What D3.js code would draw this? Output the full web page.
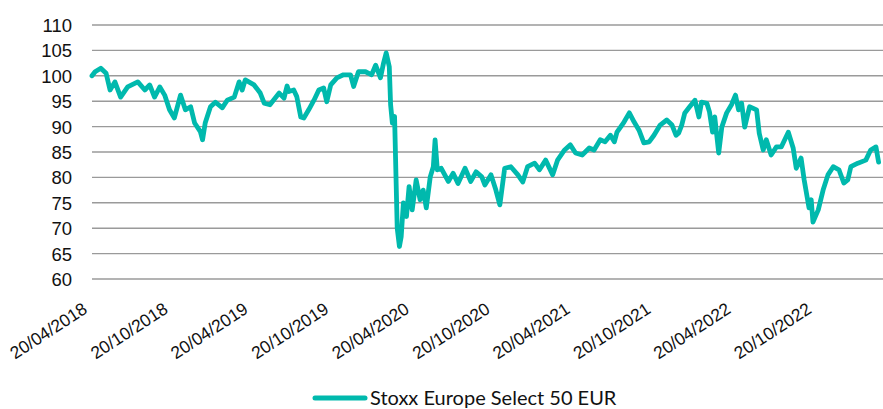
<!DOCTYPE html>
<html>
<head>
<meta charset="utf-8">
<script src="https://cdn.jsdelivr.net/npm/d3@7"></script>
<style>
  html, body { margin: 0; padding: 0; background: #fff; }
  svg { display: block; font-family: Lato, "Open Sans", sans-serif; }
  .tickLab { font-size: 18.5px; fill: #111; }
  .xLab { font-size: 17.5px; }
  .legendLab { font-size: 20px; fill: #111; }
</style>
</head>
<body>
<svg id="chart" width="883" height="409"></svg>
<script>
// Stoxx Europe Select 50 EUR, rebased at 100 on 20/04/2018
const startDate = "2018-04-20";
const endDate = "2023-03-21";
const seriesName = "Stoxx Europe Select 50 EUR";

// days since the start date
const dayOffsets = [
  0, 7, 20, 32, 41, 52, 65, 81, 104, 120, 131, 142, 154, 165, 176, 187, 201, 212, 224, 233,
  246, 251, 257, 269, 280, 296, 307, 323, 334, 341, 348, 368, 382, 391, 404, 425, 436, 443, 447, 458,
  465, 474, 481, 492, 504, 515, 526, 533, 542, 556, 571, 587, 594, 605, 621, 635, 644, 655, 662, 668,
  675, 678, 682, 687, 693, 698, 702, 707, 714, 720, 727, 736, 745, 752, 759, 768, 775, 779, 784, 793,
  809, 820, 831, 847, 860, 872, 885, 892, 906, 917, 926, 937, 951, 967, 978, 989, 1005, 1016, 1030, 1046,
  1057, 1073, 1086, 1098, 1113, 1129, 1140, 1154, 1165, 1177, 1186, 1192, 1208, 1220, 1231, 1242, 1253, 1265, 1276, 1290,
  1305, 1317, 1326, 1332, 1339, 1346, 1357, 1369, 1378, 1384, 1396, 1402, 1409, 1414, 1423, 1430, 1441, 1452, 1461, 1468,
  1475, 1482, 1493, 1509, 1515, 1524, 1531, 1542, 1554, 1565, 1581, 1592, 1599, 1610, 1617, 1628, 1633, 1637, 1649, 1660,
  1671, 1683, 1696, 1707, 1716, 1723, 1739, 1757, 1768, 1780, 1786
];

const indexValues = [
  100.0, 100.8, 101.5, 100.5, 97.2, 98.8, 95.8, 97.8, 98.8, 97.2, 98.2, 95.8, 97.8, 96.2, 93.3, 91.7, 96.2, 93.3, 93.9, 90.7,
  89.0, 87.4, 90.7, 93.9, 94.8, 93.7, 95.2, 95.8, 98.8, 97.2, 99.2, 98.2, 96.6, 94.6, 94.3, 96.6, 95.6, 98.0, 96.9, 97.2,
  95.9, 91.9, 91.7, 93.3, 95.2, 97.2, 97.6, 94.9, 98.2, 99.6, 100.2, 100.2, 97.9, 100.8, 100.8, 100.2, 102.1, 99.6, 102.5, 104.5,
  101.8, 94.3, 90.7, 92.0, 70.0, 66.4, 68.3, 75.0, 72.3, 78.2, 73.6, 79.5, 75.6, 77.5, 74.0, 80.1, 82.1, 87.4, 81.5, 81.8,
  79.2, 80.8, 78.8, 81.8, 79.2, 81.1, 80.1, 78.5, 80.5, 77.5, 74.6, 81.8, 82.1, 80.5, 79.1, 82.1, 82.8, 81.5, 83.4, 80.5,
  83.4, 85.4, 86.4, 84.8, 84.4, 85.8, 85.4, 87.4, 87.0, 88.3, 87.0, 88.9, 90.9, 92.7, 90.9, 89.3, 86.8, 87.0, 88.3, 90.3,
  91.3, 90.3, 88.3, 88.7, 90.3, 92.7, 93.9, 95.2, 91.9, 94.8, 94.6, 92.9, 88.9, 91.9, 84.8, 89.9, 92.7, 94.3, 96.2, 93.3,
  94.6, 89.9, 93.9, 93.3, 88.7, 85.4, 87.4, 84.4, 86.0, 86.0, 88.9, 85.8, 81.8, 83.8, 79.5, 74.0, 75.6, 71.2, 73.6, 77.5,
  80.5, 82.1, 81.5, 78.9, 79.5, 82.1, 82.8, 83.4, 85.4, 86.0, 83.0
];

const yTicks = [60, 65, 70, 75, 80, 85, 90, 95, 100, 105, 110];
const xTickLabels = [
  "20/04/2018", "20/10/2018", "20/04/2019", "20/10/2019", "20/04/2020",
  "20/10/2020", "20/04/2021", "20/10/2021", "20/04/2022", "20/10/2022"
];

const parseIso = d3.timeParse("%Y-%m-%d");
const parseFr = d3.timeParse("%d/%m/%Y");
const fmtFr = d3.timeFormat("%d/%m/%Y");

const t0 = parseIso(startDate);
const points = dayOffsets.map((d, i) => ({ date: d3.timeDay.offset(t0, d), value: indexValues[i] }));
const xTicks = xTickLabels.map(parseFr);

const svg = d3.select("#chart");
const margin = { top: 25, right: 0, bottom: 130, left: 92 };
const W = 883, H = 409;
const innerW = W - margin.left - margin.right;
const innerH = H - margin.top - margin.bottom; // 254

const x = d3.scaleTime().domain([t0, parseIso(endDate)]).range([0, innerW]);
const y = d3.scaleLinear().domain([60, 110]).range([innerH, 0]);

const g = svg.append("g").attr("transform", `translate(${margin.left},${margin.top})`);

// horizontal grid
g.append("g")
  .selectAll("line")
  .data(yTicks)
  .join("line")
  .attr("x1", 0)
  .attr("x2", innerW)
  .attr("y1", (d) => y(d))
  .attr("y2", (d) => y(d))
  .attr("stroke", "#9a9a9a")
  .attr("stroke-width", 1.4);

// y labels
const yAxis = g.append("g")
  .attr("transform", "translate(-20,0)")
  .call(d3.axisLeft(y).tickValues(yTicks).tickSize(0).tickPadding(0));
yAxis.select(".domain").remove();
yAxis.selectAll("text")
  .attr("class", "tickLab")
  .attr("font-family", null)
  .attr("dy", "0.35em");

// x labels, rotated
const xAxis = g.append("g")
  .attr("transform", `translate(0,${innerH})`)
  .call(d3.axisBottom(x).tickValues(xTicks).tickFormat(fmtFr).tickSize(0).tickPadding(0));
xAxis.select(".domain").remove();
xAxis.selectAll("text")
  .attr("class", "tickLab xLab")
  .attr("font-family", null)
  .attr("text-anchor", "end")
  .attr("dy", null)
  .attr("y", 0)
  .attr("transform", "translate(-4,33) rotate(-33)");

// series
const line = d3.line()
  .x((d) => x(d.date))
  .y((d) => y(d.value));

g.append("path")
  .datum(points)
  .attr("fill", "none")
  .attr("stroke", "#00b9ad")
  .attr("stroke-width", 4.8)
  .attr("stroke-linejoin", "round")
  .attr("stroke-linecap", "round")
  .attr("d", line);

// legend
const lg = svg.append("g").attr("transform", "translate(313,398)");
lg.append("line")
  .attr("x1", 2).attr("x2", 52)
  .attr("y1", 0).attr("y2", 0)
  .attr("stroke", "#00b9ad")
  .attr("stroke-width", 5)
  .attr("stroke-linecap", "round");
lg.append("text")
  .attr("class", "legendLab")
  .attr("x", 57)
  .attr("y", 7)
  .text(seriesName);
</script>
</body>
</html>
